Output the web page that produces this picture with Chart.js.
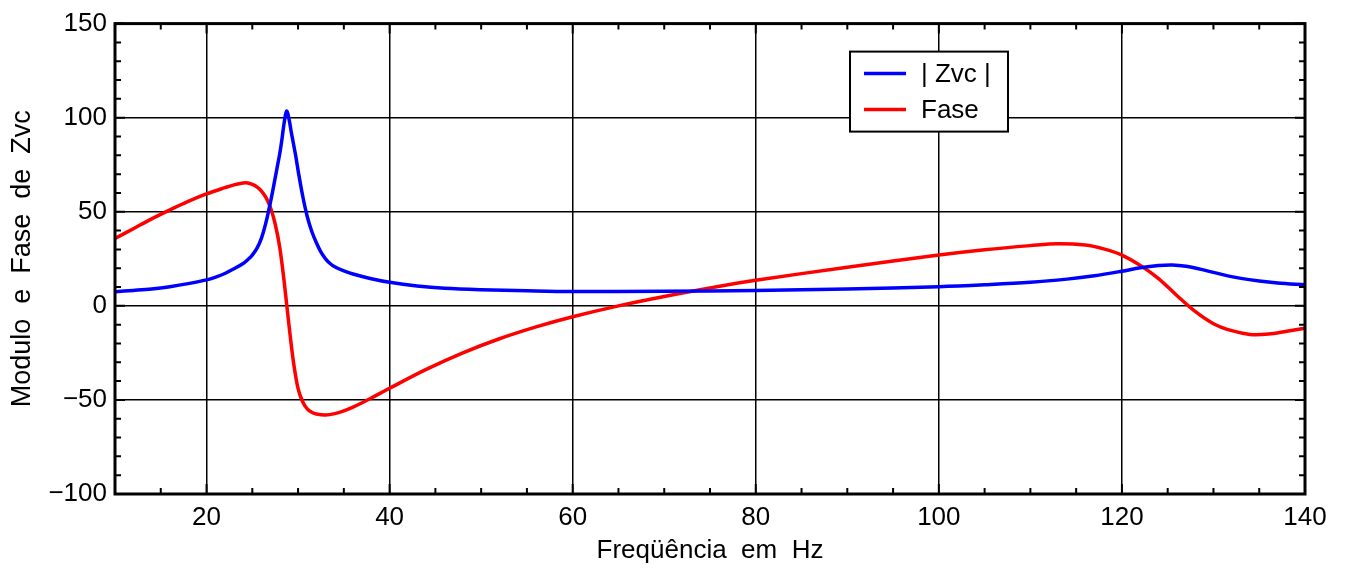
<!DOCTYPE html>
<html>
<head>
<meta charset="utf-8">
<script src="https://cdn.jsdelivr.net/npm/chart.js@4"></script>
<style>
  html, body { margin: 0; padding: 0; background: #fff; }
  #wrap { width: 1347px; height: 569px; }
</style>
</head>
<body>
<div id="wrap"><canvas id="chart"></canvas></div>
<script>
// |Zvc| curve
const zvcFreq = [10, 12, 14, 16, 18, 20, 21, 22, 23, 24, 24.5, 25, 25.5, 26, 26.5, 27, 27.5, 27.75, 28, 28.25, 28.5, 28.75, 29, 29.25, 29.5, 29.75, 30, 30.5, 31, 31.5, 32, 32.5, 33, 33.5, 34, 35, 36, 38, 40, 43, 46, 50, 55, 60, 70, 80, 90, 100, 105, 110, 114, 117, 120, 122, 124, 125.5, 127, 129, 131, 133, 135, 137, 140];
const zvcValues = [7.5, 8.2, 9, 10.2, 11.8, 13.8, 15.3, 17.2, 19.7, 22.5, 24.5, 27, 30.5, 36, 44.5, 55.5, 68, 74.5, 81, 89, 98, 103.5, 99.5, 92.5, 86, 79.5, 72, 58.5, 47.5, 39.5, 33.5, 28.5, 25, 22.5, 20.8, 18.6, 16.9, 14.4, 12.5, 10.6, 9.4, 8.6, 8, 7.6, 7.7, 8.2, 9, 10.2, 11.2, 12.5, 14.2, 16, 18.4, 20.2, 21.4, 21.7, 21, 19, 16.6, 14.6, 13.2, 12.2, 11.2];

// Fase curve
const faseFreq = [10, 12, 14, 16, 18, 20, 22, 23, 24, 24.5, 25, 25.5, 26, 26.5, 27, 27.5, 28, 28.5, 29, 29.5, 30, 30.5, 31, 31.5, 32, 33, 34, 35, 36, 37, 38, 40, 44, 48, 52, 56, 60, 65, 70, 75, 80, 90, 100, 105, 110, 113, 116, 118, 120, 122, 124, 126, 128, 130, 132, 134, 136, 138, 140];
const faseValues = [35.8, 41, 46.2, 51, 55.5, 59.5, 62.8, 64.3, 65.3, 65.3, 64.5, 63.2, 61, 57.5, 52, 43.5, 31, 12, -10, -30, -44, -51, -54.8, -56.6, -57.5, -58, -57.3, -55.8, -53.8, -51.5, -49, -43.8, -33.8, -25, -17.5, -11.2, -5.8, 0, 5, 9.5, 13.6, 20.5, 27, 29.8, 32, 33, 32.3, 30.3, 27, 21.5, 14.5, 5.5, -3, -9.5, -13.2, -15.2, -15, -13.5, -11.9];

const seriesLabels = ['| Zvc |', 'Fase'];
const xTitle = 'Freqüência  em  Hz';
const yTitle = 'Modulo  e  Fase  de  Zvc';

const toPoints = (xs, ys) => xs.map((x, i) => ({ x: x, y: ys[i] }));
const fmtTick = v => (v < 0 ? '\u2212' + Math.abs(v) : String(v));
const FONT = 'Liberation Sans, Arial, sans-serif';
const FSIZE = 26;

// inner minor ticks + frame + legend box
const framePlugin = {
    id: 'frame',
    afterDraw(chart) {
        const ctx = chart.ctx;
        const a = chart.chartArea;
        const xs = chart.scales.x;
        const ys = chart.scales.y;
        ctx.save();
        ctx.strokeStyle = '#000';

        ctx.lineWidth = 2;
        for (let v = 10; v <= 140; v += 5) {
            const px = xs.getPixelForValue(v);
            const len = v % 20 === 0 ? 10 : 6;
            ctx.beginPath();
            ctx.moveTo(px, a.bottom); ctx.lineTo(px, a.bottom - len);
            ctx.moveTo(px, a.top); ctx.lineTo(px, a.top + len);
            ctx.stroke();
        }
        for (let v = -100; v <= 150; v += 10) {
            const py = ys.getPixelForValue(v);
            const len = v % 50 === 0 ? 10 : 6;
            ctx.beginPath();
            ctx.moveTo(a.left, py); ctx.lineTo(a.left + len, py);
            ctx.moveTo(a.right, py); ctx.lineTo(a.right - len, py);
            ctx.stroke();
        }

        ctx.lineWidth = 3;
        ctx.strokeRect(a.left, a.top, a.right - a.left, a.bottom - a.top);

        // legend
        const bx = a.left + 735, by = a.top + 28, bw = 158, bh = 80;
        ctx.fillStyle = '#fff';
        ctx.fillRect(bx, by, bw, bh);
        ctx.lineWidth = 2;
        ctx.strokeRect(bx, by, bw, bh);
        ctx.font = FSIZE + 'px ' + FONT;
        ctx.textBaseline = 'middle';
        chart.data.datasets.forEach((ds, i) => {
            const cy = by + 22 + i * 36;
            ctx.strokeStyle = ds.borderColor;
            ctx.lineWidth = 3.5;
            ctx.beginPath();
            ctx.moveTo(bx + 14, cy); ctx.lineTo(bx + 56, cy);
            ctx.stroke();
            ctx.fillStyle = '#000';
            ctx.fillText(ds.label, bx + 71, cy + 1);
        });
        ctx.restore();
    }
};

new Chart(document.getElementById('chart').getContext('2d'), {
    type: 'line',
    data: {
        datasets: [
            {
                label: seriesLabels[0],
                data: toPoints(zvcFreq, zvcValues),
                borderColor: '#0000ff',
                borderWidth: 3.5,
                pointRadius: 0,
                tension: 0.35,
                fill: false
            },
            {
                label: seriesLabels[1],
                data: toPoints(faseFreq, faseValues),
                borderColor: '#ff0000',
                borderWidth: 3.5,
                pointRadius: 0,
                tension: 0.35,
                fill: false
            }
        ]
    },
    options: {
        responsive: true,
        maintainAspectRatio: false,
        animation: false,
        layout: { padding: { left: 0, right: 42, top: 18, bottom: 0 } },
        plugins: {
            legend: { display: false },
            tooltip: { enabled: false }
        },
        scales: {
            x: {
                type: 'linear',
                min: 10,
                max: 140,
                afterFit: s => { s.height = 75; },
                afterBuildTicks: s => {
                    s.ticks = [20, 40, 60, 80, 100, 120, 140].map(v => ({ value: v }));
                },
                ticks: {
                    color: '#000',
                    font: { family: FONT, size: FSIZE },
                    padding: 8,
                    maxRotation: 0
                },
                grid: { color: '#000', lineWidth: 1.5, drawTicks: false },
                border: { display: false },
                title: {
                    display: true,
                    text: xTitle,
                    color: '#000',
                    font: { family: FONT, size: FSIZE },
                    padding: { top: 3, bottom: 3 }
                }
            },
            y: {
                min: -100,
                max: 150,
                afterFit: s => { s.width = 115; },
                ticks: {
                    stepSize: 50,
                    color: '#000',
                    font: { family: FONT, size: FSIZE },
                    padding: 8,
                    callback: v => fmtTick(v)
                },
                grid: { color: '#000', lineWidth: 1.5, drawTicks: false },
                border: { display: false },
                title: {
                    display: true,
                    text: yTitle,
                    color: '#000',
                    font: { family: FONT, size: 27 },
                    padding: { top: 6, bottom: 0 }
                }
            }
        }
    },
    plugins: [framePlugin]
});
</script>
</body>
</html>
